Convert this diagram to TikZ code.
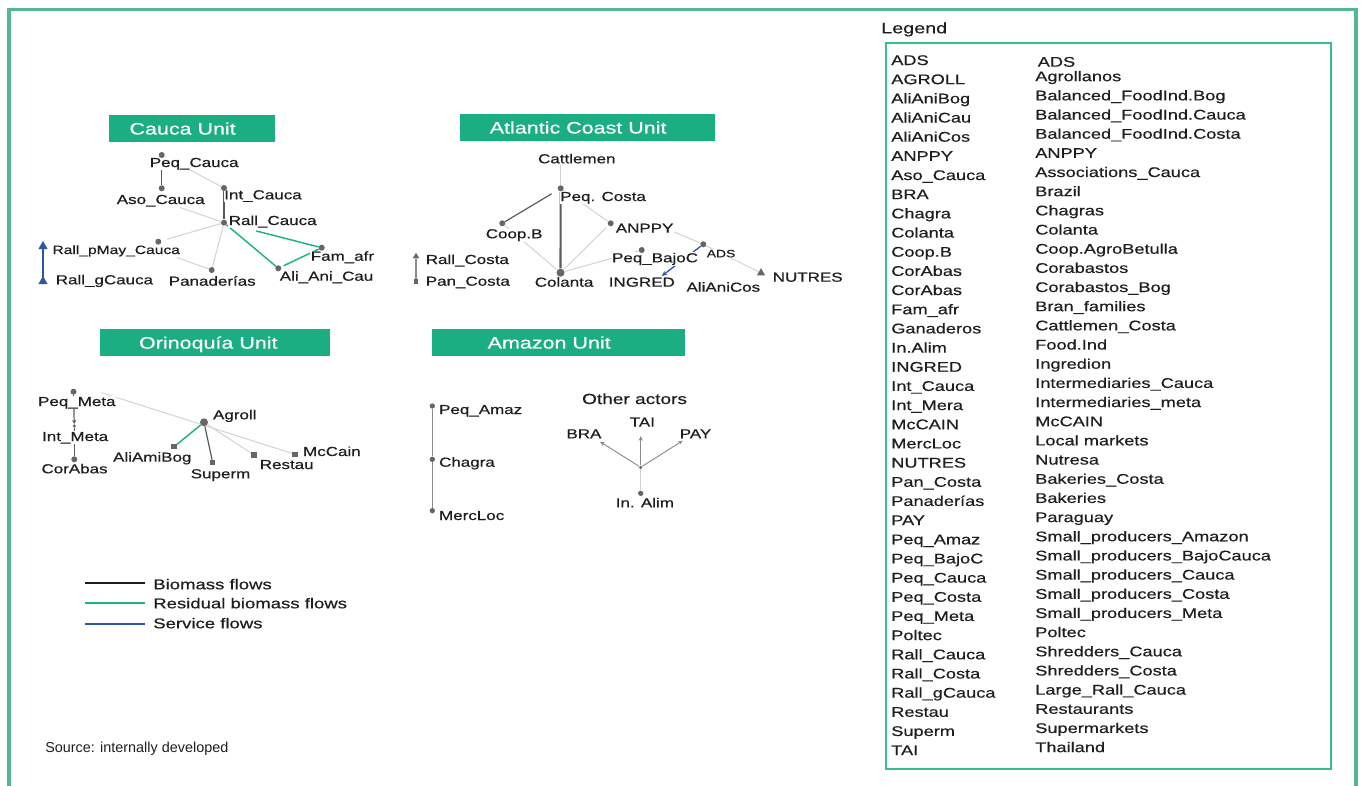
\documentclass[tikz,border=0pt]{standalone}
\usepackage{fontspec}
\setmainfont{Liberation Sans}[FakeStretch=1.3,FakeBold=0.5]
\newfontfamily\plainfont{Liberation Sans}
\usetikzlibrary{shapes.geometric,arrows.meta}
\definecolor{txt}{HTML}{1E1E1E}
\definecolor{dotc}{HTML}{666666}
\definecolor{darkl}{HTML}{5A5A5A}
\definecolor{lightl}{HTML}{D3D3D3}
\definecolor{midl}{HTML}{8A8A8A}
\definecolor{grn}{HTML}{1DB386}
\definecolor{blu}{HTML}{2E56A6}
\definecolor{titlec}{HTML}{1BAE82}
\definecolor{framec}{HTML}{52B894}
\definecolor{legc}{HTML}{35BD93}
\pgfdeclarelayer{edges}
\pgfdeclarelayer{labels}
\pgfsetlayers{edges,labels,main}
\begin{document}
\begin{tikzpicture}[x=0.75pt,y=-0.75pt,
  lbl/.style={anchor=base west, inner sep=0.4pt, fill=white, text=txt, font=\fontsize{9.8pt}{11pt}\selectfont},
  lblsmall/.style={lbl, font=\fontsize{8pt}{9pt}\selectfont},
  legtxt/.style={anchor=base west, inner sep=0pt, text=txt, font=\fontsize{10.5pt}{12pt}\selectfont},
  flowtxt/.style={anchor=base west, inner sep=0pt, text=txt, font=\fontsize{10.7pt}{12pt}\selectfont},
  mydot/.style={circle, fill=dotc, inner sep=0pt, minimum size=4.5pt},
  mybigdot/.style={mydot, minimum size=6pt},
  mysmalldot/.style={mydot, minimum size=2.6pt},
  mysq/.style={rectangle, fill=dotc, inner sep=0pt, minimum size=4pt},
  mytri/.style={regular polygon, regular polygon sides=3, fill=dotc, inner sep=0pt, minimum size=7.2pt},
  edark/.style={draw=darkl, line width=0.9pt},
  elight/.style={draw=lightl, line width=0.75pt},
  emid/.style={draw=midl, line width=0.8pt},
  egreen/.style={draw=grn, line width=1.1pt},
  eblue/.style={draw=blu, line width=1pt},
  earrow/.style={draw=midl, line width=0.7pt, -{Stealth[length=3.5pt,width=3pt]}},
  ttlbox/.style={fill=titlec, text=white, inner sep=0pt, minimum height=20.25pt, text depth=0pt, font=\fontsize{12.4pt}{14pt}\selectfont},
  flowline/.style={line width=1.5pt}
]
\useasboundingbox (0,0) rectangle (1362,785);
% outer frame
\draw[framec, line width=2.6pt] (8.8,786) -- (8.8,9.5) -- (1355.8,9.5) -- (1355.8,786);

% titles
\node[ttlbox, minimum width=124.5pt] (tCauca) at (192,128.5) {\hspace*{-14pt}Cauca Unit};
\node[ttlbox, minimum width=191.25pt] (tAtl) at (587.5,127.5) {\hspace*{-14pt}Atlantic Coast Unit};
\node[ttlbox, minimum width=172.5pt] (tOri) at (215,342.5) {\hspace*{-10pt}Orinoquía Unit};
\node[ttlbox, minimum width=189.75pt] (tAma) at (558.5,342.5) {\hspace*{-14pt}Amazon Unit};

% ---------- dots / markers ----------
% Cauca
\node[mydot] (pcD) at (161.7,155) {};
\node[mydot] (acD) at (161.7,188.3) {};
\node[mydot] (icD) at (224,188) {};
\node[mydot] (rcD) at (224,222.7) {};
\node[mydot] (rpmD) at (158.3,241.7) {};
\node[mydot] (panD) at (211.7,270) {};
\node[mydot] (aacD) at (278.3,268.3) {};
\node[mydot] (famD) at (321.7,247.7) {};
\node[mytri, fill=blu, minimum size=8.2pt] (gcTop) at (43,246.5) {};
\node[mytri, fill=blu, minimum size=8.2pt] (gcBot) at (43,281.5) {};
% Atlantic
\node[mydot] (pcsD) at (560.7,188.3) {};
\node[mydot] (coopD) at (502.3,223.3) {};
\node[mydot] (anpD) at (610.7,223.3) {};
\node[mydot] (pbcD) at (641.7,250) {};
\node[mydot] (adsD) at (703.3,244.3) {};
\node[mybigdot] (colD) at (560.5,272.7) {};
\node[mytri] (nutT) at (761,273) {};
\node[mytri, minimum size=5.6pt] (rcoT) at (416,256.5) {};
\node[mysq, minimum size=3.4pt] (pcoS) at (416,281.7) {};
% Orinoquia
\node[mydot] (pmD) at (73.5,391.7) {};
\node[mysmalldot] (imD) at (74.3,426) {};
\node[mydot] (caD) at (74.3,459.3) {};
\node[mybigdot] (agD) at (204,422.3) {};
\node[mysq] (aabS) at (174,446.7) {};
\node[mysq] (supS) at (212.7,462.7) {};
\node[mysq] (resS) at (254,455) {};
\node[mysq] (mcS) at (295,454.3) {};
% Amazon
\node[mydot, minimum size=4pt] (paD) at (432.3,406) {};
\node[mydot, minimum size=4pt] (chD) at (432.3,459.3) {};
\node[mydot, minimum size=4pt] (mlD) at (432.3,510.7) {};
\node[mysmalldot] (hubD) at (640.7,467.3) {};
\node[mydot, minimum size=4pt] (iaD) at (640.7,493.3) {};

% ---------- labels ----------
\begin{pgfonlayer}{labels}
\node[lbl] (lPeqC) at (149,167) {Peq\_Cauca};
\node[lbl] (lAsoC) at (116,204) {Aso\_Cauca};
\node[lbl] (lIntC) at (223.5,199.3) {Int\_Cauca};
\node[lbl] (lRallC) at (228,225) {Rall\_Cauca};
\node[lbl, font=\fontsize{9pt}{10pt}\selectfont] (lRpm) at (51.7,254) {Rall\_pMay\_Cauca};
\node[lbl] (lRg) at (55,284.3) {Rall\_gCauca};
\node[lbl] (lPan) at (168,285.7) {Panaderías};
\node[lbl] (lAac) at (279,280.7) {Ali\_Ani\_Cau};
\node[lbl] (lFam) at (310,260.7) {Fam\_afr};

\node[lbl] (lCat) at (537.3,163.3) {Cattlemen};
\node[lbl] (lPcs) at (559.5,201) {Peq. Costa};
\node[lbl] (lCoop) at (485,238.3) {Coop.B};
\node[lbl] (lAnp) at (615,232.7) {ANPPY};
\node[lbl] (lPbc) at (611.3,262.3) {Peq\_BajoC};
\node[lblsmall] (lAds) at (706,257.3) {ADS};
\node[lbl] (lCol) at (534,286.7) {Colanta};
\node[lbl] (lIng) at (608,286.7) {INGRED};
\node[lbl] (lAac2) at (685.7,291.7) {AliAniCos};
\node[lbl] (lNut) at (772,281.7) {NUTRES};
\node[lbl] (lRco) at (425,264) {Rall\_Costa};
\node[lbl] (lPco) at (425,285.7) {Pan\_Costa};

\node[lbl] (lPm) at (37.3,406) {Peq\_Meta};
\node[lbl] (lIm) at (41.3,441) {Int\_Meta};
\node[lbl] (lCa) at (40.7,473.3) {CorAbas};
\node[lbl] (lAg) at (212.3,419.3) {Agroll};
\node[lbl] (lAab) at (112.3,461.7) {AliAmiBog};
\node[lbl] (lSup) at (190,478.3) {Superm};
\node[lbl] (lRes) at (259,469) {Restau};
\node[lbl] (lMc) at (302.3,456) {McCain};

\node[lbl] (lPa) at (438.3,414) {Peq\_Amaz};
\node[lbl] (lCh) at (438.3,466.7) {Chagra};
\node[lbl] (lMl) at (438.3,520) {MercLoc};
\node[lbl, font=\fontsize{11pt}{12pt}\selectfont] (lOth) at (581.3,404) {Other actors};
\node[lbl] (lTai) at (629,426.7) {TAI};
\node[lbl] (lBra) at (565.7,438.3) {BRA};
\node[lbl] (lPay) at (679,438.3) {PAY};
\node[lbl] (lIa) at (615,507.3) {In. Alim};
\end{pgfonlayer}

% ---------- edges ----------
\begin{pgfonlayer}{edges}
% Cauca
\draw[edark] (pcD) -- (acD);
\draw[elight] (pcD) -- (icD);
\draw[edark] (icD) -- (rcD);
\draw[elight] (lAsoC) -- (rcD);
\draw[elight, shorten <=4.3pt] (rpmD) -- (rcD);
\draw[elight] (rcD) -- (panD);
\coordinate (rpmE) at (177,257.5);
\draw[elight] (rpmE) -- (panD);
\draw[egreen] (rcD) -- (aacD);
\draw[egreen, shorten <=22.5pt] (rcD) -- (famD);
\draw[egreen, shorten >=2pt] (famD) -- (aacD);
\draw[eblue] (gcBot.center) -- (gcTop.center);
% Atlantic
\coordinate (catS) at (560.7,165);
\draw[elight] (catS) -- (pcsD);
\draw[edark, shorten <=5.5pt] (pcsD) -- (coopD);
\draw[edark, line width=1.6pt] (pcsD) -- (colD);
\draw[elight] (pcsD) -- (anpD);
\draw[elight] (coopD) -- (colD);
\draw[elight, shorten <=2.25pt] (anpD) -- (colD);
\draw[elight] (pbcD) -- (colD);
\coordinate (anpE) at (673.3,231.7);
\draw[elight] (anpE) -- (adsD);
\draw[elight] (adsD) -- (nutT);
\coordinate (ingT) at (661.7,276);
\draw[eblue, -{Stealth[length=4pt,width=3.5pt]}] (adsD) -- (ingT);
\draw[emid] (rcoT) -- (pcoS);
% Orinoquia
\draw[edark, -{Stealth[length=3pt,width=3pt]}] (pmD) -- (imD);
\draw[edark] (imD) -- (caD);
\coordinate (pmE) at (101.7,392.7);
\draw[elight] (pmE) -- (mcS);
\draw[egreen] (agD) -- (aabS);
\draw[edark] (agD) -- (supS);
\draw[elight] (agD) -- (resS);
% Amazon
\draw[emid] (paD) -- (chD) -- (mlD);
\draw[elight] (iaD) -- (hubD);
\coordinate (traT) at (640.7,436);
\coordinate (braT) at (600,441.7);
\coordinate (payT) at (682.7,440.7);
\draw[earrow] (hubD) -- (traT);
\draw[earrow] (hubD) -- (braT);
\draw[earrow] (hubD) -- (payT);
\end{pgfonlayer}

% ---------- flow legend ----------
\coordinate (f1a) at (85,583.3); \coordinate (f1b) at (145,583.3);
\coordinate (f2a) at (85,603.3); \coordinate (f2b) at (145,603.3);
\coordinate (f3a) at (85,624.3); \coordinate (f3b) at (145,624.3);
\draw[flowline, draw=txt] (f1a) -- (f1b);
\draw[flowline, draw=grn] (f2a) -- (f2b);
\draw[flowline, draw=blu] (f3a) -- (f3b);
\node[flowtxt] (fl1) at (153,589.3) {Biomass flows};
\node[flowtxt] (fl2) at (153,608.3) {Residual biomass flows};
\node[flowtxt] (fl3) at (153,628.3) {Service flows};

\node[anchor=base west, inner sep=0pt, text=txt, font=\plainfont\fontsize{10.8pt}{12pt}\selectfont] (src) at (45,752.7) {Source: internally developed};

% ---------- legend ----------
\node[anchor=base west, inner sep=0pt, text=txt, font=\fontsize{11.4pt}{13pt}\selectfont] (legHead) at (881,33.3) {Legend};
\node[draw=legc, line width=1.1pt, minimum width=333.75pt, minimum height=544.5pt, inner sep=0pt] (legbox) at (1108.5,406) {};
\foreach \a [count=\i from 0] in {ADS, AGROLL, AliAniBog, AliAniCau, AliAniCos, ANPPY, Aso\_Cauca, BRA, Chagra, Colanta, Coop.B, CorAbas, CorAbas, Fam\_afr, Ganaderos, In.Alim, INGRED, Int\_Cauca, Int\_Mera, McCAIN, MercLoc, NUTRES, Pan\_Costa, Panaderías, PAY, Peq\_Amaz, Peq\_BajoC, Peq\_Cauca, Peq\_Costa, Peq\_Meta, Poltec, Rall\_Cauca, Rall\_Costa, Rall\_gCauca, Restau, Superm, TAI}{
  \node[legtxt] (legL\i) at (891,{65+19.17*\i}) {\a};
}
\node[legtxt] (legR0) at (1037.5,66.7) {ADS};
\foreach \b [count=\i from 1] in {Agrollanos, Balanced\_FoodInd.Bog, Balanced\_FoodInd.Cauca, Balanced\_FoodInd.Costa, ANPPY, Associations\_Cauca, Brazil, Chagras, Colanta, Coop.AgroBetulla, Corabastos, Corabastos\_Bog, Bran\_families, Cattlemen\_Costa, Food.Ind, Ingredion, Intermediaries\_Cauca, Intermediaries\_meta, McCAIN, Local markets, Nutresa, Bakeries\_Costa, Bakeries, Paraguay, Small\_producers\_Amazon, Small\_producers\_BajoCauca, Small\_producers\_Cauca, Small\_producers\_Costa, Small\_producers\_Meta, Poltec, Shredders\_Cauca, Shredders\_Costa, Large\_Rall\_Cauca, Restaurants, Supermarkets, Thailand}{
  \node[legtxt] (legR\i) at (1035,{62+19.17*\i}) {\b};
}
\end{tikzpicture}
\end{document}
